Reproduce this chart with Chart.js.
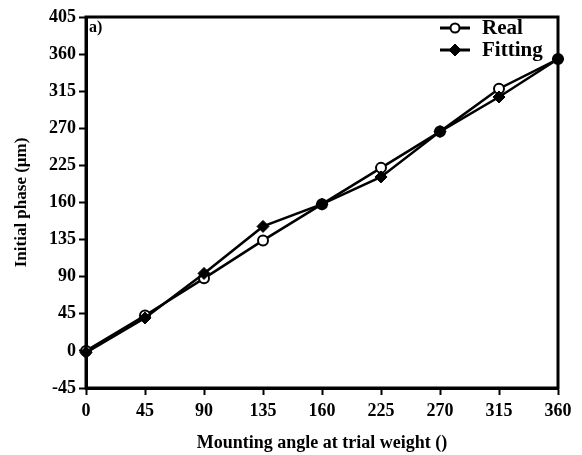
<!DOCTYPE html>
<html>
<head>
<meta charset="utf-8">
<script src="https://cdn.jsdelivr.net/npm/chart.js@4/dist/chart.umd.min.js"></script>
<style>
  html, body { margin: 0; padding: 0; background: #fff; }
  #wrap { width: 582px; height: 455px; }
</style>
</head>
<body>
<div id="wrap"><canvas id="chart"></canvas></div>
<script>
// data
const categories = ["0", "45", "90", "135", "160", "225", "270", "315", "360"];
const realValues = [0, 43, 88, 134, 178, 222, 266, 318, 354];
const fittingValues = [-2, 40, 94, 151, 178, 211, 266, 308, 354];
// y tick labels as printed (the 180 mark reads "160" in the original)
const yTickValues = [-45, 0, 45, 90, 135, 180, 225, 270, 315, 360, 405];
const yTickLabels = ["-45", "0", "45", "90", "135", "160", "225", "270", "315", "360", "405"];

const serif = "'Liberation Serif', 'Times New Roman', serif";
const tickFont = { family: serif, size: 18, weight: "bold" };

/** box around the plot + the "a)" panel tag */
const framePlugin = {
    id: "frame",
    afterDraw(chart) {
        const { ctx, chartArea: a } = chart;
        ctx.save();
        ctx.strokeStyle = "#000";
        ctx.lineWidth = 3;
        ctx.strokeRect(a.left, a.top, a.right - a.left, a.bottom - a.top);
        ctx.fillStyle = "#000";
        ctx.font = "bold 16px " + serif;
        ctx.textBaseline = "middle";
        ctx.fillText("a)", a.left + 3, a.top + 11);
        ctx.restore();
    },
};

/** legend drawn inside the top right corner */
const cornerLegend = {
    id: "cornerLegend",
    afterDraw(chart) {
        const { ctx, chartArea: a } = chart;
        ctx.save();
        chart.data.datasets.forEach((ds, i) => {
            const y = a.top + 11 + i * 22;
            const x0 = a.right - 118;
            const cx = x0 + 15;
            ctx.strokeStyle = "#000";
            ctx.lineWidth = 3;
            ctx.beginPath();
            ctx.moveTo(x0, y);
            ctx.lineTo(x0 + 30, y);
            ctx.stroke();
            ctx.fillStyle = ds.pointBackgroundColor;
            ctx.lineWidth = ds.pointBorderWidth;
            ctx.beginPath();
            const r = ds.pointRadius;
            if (ds.pointStyle === "circle") {
                ctx.arc(cx, y, r - 0.5, 0, Math.PI * 2);
            } else {
                ctx.moveTo(cx, y - r);
                ctx.lineTo(cx + r, y);
                ctx.lineTo(cx, y + r);
                ctx.lineTo(cx - r, y);
                ctx.closePath();
            }
            ctx.fill();
            ctx.stroke();
            ctx.fillStyle = "#000";
            ctx.font = "bold 21px " + serif;
            ctx.textBaseline = "middle";
            ctx.fillText(ds.label, x0 + 42, y + 1);
        });
        ctx.restore();
    },
};

new Chart(document.getElementById("chart"), {
    type: "line",
    data: {
        labels: categories,
        datasets: [
            {
                label: "Real",
                data: realValues,
                borderColor: "#000",
                borderWidth: 2.5,
                pointStyle: "circle",
                pointRadius: 5,
                pointBorderWidth: 2,
                pointBackgroundColor: "#fff",
                pointBorderColor: "#000",
                tension: 0,
                clip: false,
                order: 2,
            },
            {
                label: "Fitting",
                data: fittingValues,
                borderColor: "#000",
                borderWidth: 2.5,
                pointStyle: "rectRot",
                pointRadius: 6,
                pointBorderWidth: 1,
                pointBackgroundColor: "#000",
                pointBorderColor: "#000",
                tension: 0,
                clip: false,
                order: 1,
            },
        ],
    },
    options: {
        responsive: true,
        maintainAspectRatio: false,
        animation: false,
        layout: { padding: { top: 17, right: 24, left: 0, bottom: 0 } },
        plugins: {
            legend: { display: false },
            tooltip: { enabled: false },
        },
        scales: {
            x: {
                type: "category",
                offset: false,
                grid: { drawOnChartArea: false, drawTicks: true, tickLength: 7, tickWidth: 2, tickColor: "#000" },
                border: { display: true, color: "#000", width: 3 },
                ticks: { color: "#000", font: tickFont, padding: 6, maxRotation: 0, autoSkip: false },
                title: {
                    display: true,
                    text: "Mounting angle at trial weight ()",
                    color: "#000",
                    font: { family: serif, size: 18, weight: "bold" },
                    padding: { top: 0, bottom: 1 },
                },
                afterFit(scale) { scale.height = 67; },
            },
            y: {
                min: -45,
                max: 405,
                grid: { drawOnChartArea: false, drawTicks: true, tickLength: 7, tickWidth: 2, tickColor: "#000" },
                border: { display: true, color: "#000", width: 3 },
                ticks: {
                    stepSize: 45,
                    color: "#000",
                    font: tickFont,
                    padding: 3,
                    callback: (v) => {
                        const i = yTickValues.indexOf(v);
                        return i >= 0 ? yTickLabels[i] : "";
                    },
                },
                title: {
                    display: true,
                    text: "Initial phase (μm)",
                    color: "#000",
                    font: { family: serif, size: 17, weight: "bold" },
                    padding: { top: 11, bottom: 0 },
                },
                afterFit(scale) { scale.width = 86; },
            },
        },
    },
    plugins: [framePlugin, cornerLegend],
});
</script>
</body>
</html>
